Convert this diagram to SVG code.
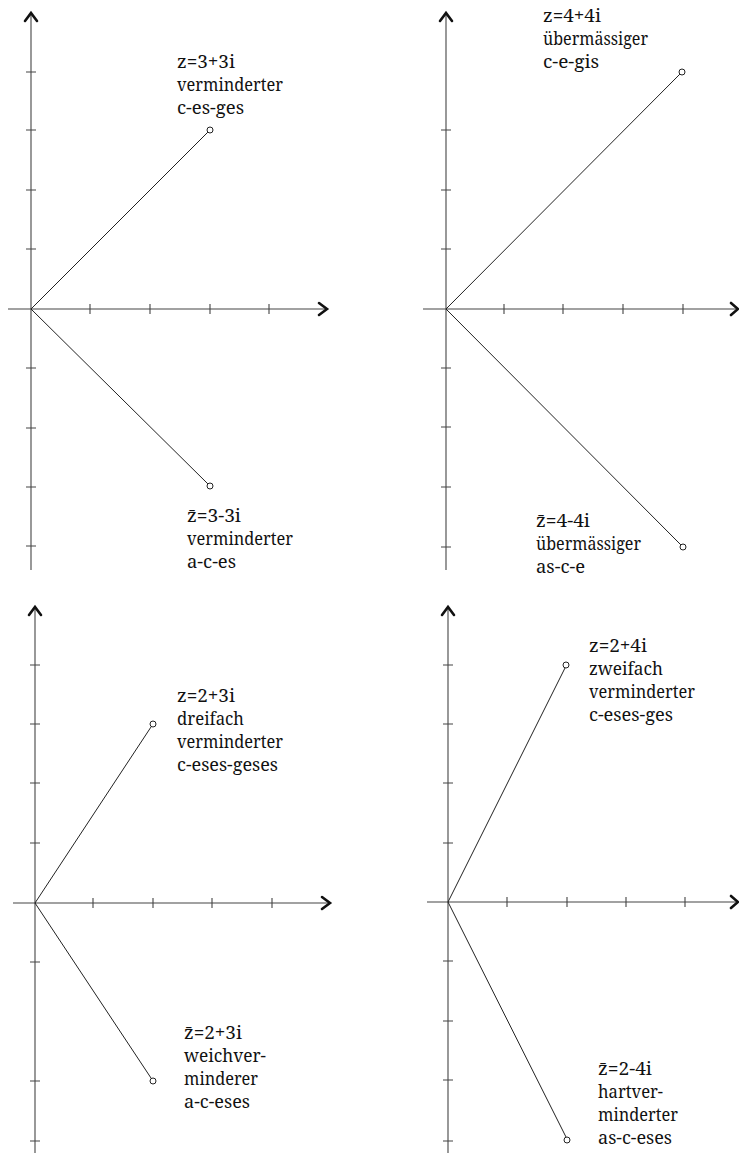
<svg xmlns="http://www.w3.org/2000/svg" width="739" height="1154" viewBox="0 0 739 1154">
<style>
.ax{stroke:#444;stroke-width:1.1;fill:none}
.tk{stroke:#444;stroke-width:1.1;fill:none}
.ah{stroke:#111;stroke-width:2.6;fill:none;stroke-linecap:round;stroke-linejoin:miter}
.vec{stroke:#222;stroke-width:1;fill:none}
.pt{stroke:#222;stroke-width:1;fill:#fff}
.lbl text{font-family:"Noto Serif","DejaVu Serif",serif;font-size:18.5px;fill:#111}
</style>
<rect width="739" height="1154" fill="#fff"/>

<g id="panel1-axes">
<line class="ax" x1="8" y1="309" x2="326" y2="309"/>
<line class="ax" x1="31" y1="13" x2="31" y2="570"/>
<polyline class="ah" points="319,303 327,309 319,315"/>
<polyline class="ah" points="25,21 31,13 37,21"/>
<path class="tk" d="M90,304V314M150,304V314M210,304V314M269,304V314M26,72H36M26,130H36M26,190H36M26,249H36M26,368H36M26,428H36M26,487H36M26,546H36"/>
</g>

<g id="panel2-axes">
<line class="ax" x1="423" y1="309" x2="736" y2="309"/>
<line class="ax" x1="446" y1="13" x2="446" y2="570"/>
<polyline class="ah" points="731,303 738,309 731,315"/>
<polyline class="ah" points="440,21 446,13 452,21"/>
<path class="tk" d="M504,304V314M563,304V314M623,304V314M683,304V314M441,130H451M441,190H451M441,249H451M441,368H451M441,427H451M441,487H451M441,547H451"/>
</g>

<g id="panel3-axes">
<line class="ax" x1="13" y1="903" x2="328" y2="903"/>
<line class="ax" x1="35" y1="607" x2="35" y2="1153"/>
<polyline class="ah" points="322,897 330,903 322,909"/>
<polyline class="ah" points="29,615 35,607 41,615"/>
<path class="tk" d="M93,898V908M153,898V908M212,898V908M272,898V908M30,665H40M30,724H40M30,783H40M30,843H40M30,962H40M30,1081H40M30,1141H40"/>
</g>

<g id="panel4-axes">
<line class="ax" x1="427" y1="902" x2="736" y2="902"/>
<line class="ax" x1="448" y1="607" x2="448" y2="1153"/>
<polyline class="ah" points="731,896 738,902 731,908"/>
<polyline class="ah" points="442,615 448,607 454,615"/>
<path class="tk" d="M507,897V907M567,897V907M626,897V907M685,897V907M443,665H453M443,724H453M443,783H453M443,843H453M443,961H453M443,1021H453M443,1080H453M443,1141H453"/>
</g>

<g id="connectors">
<line class="vec" x1="31" y1="309" x2="208" y2="132"/>
<line class="vec" x1="31" y1="309" x2="208" y2="484"/>
<line class="vec" x1="446" y1="309" x2="680" y2="74"/>
<line class="vec" x1="446" y1="309" x2="681" y2="545"/>
<line class="vec" x1="35" y1="903" x2="151" y2="727"/>
<line class="vec" x1="35" y1="903" x2="151" y2="1078"/>
<line class="vec" x1="448" y1="902" x2="565" y2="668"/>
<line class="vec" x1="448" y1="902" x2="566" y2="1137"/>
</g>

<g id="z1" class="lbl">
<circle class="pt" cx="210" cy="130" r="3"/>
<text x="177" y="68" textLength="58" lengthAdjust="spacingAndGlyphs">z=3+3i</text>
<text x="177" y="91" textLength="106" lengthAdjust="spacingAndGlyphs">verminderter</text>
<text x="177" y="114" textLength="67" lengthAdjust="spacingAndGlyphs">c-es-ges</text>
</g>
<g id="z1bar" class="lbl">
<circle class="pt" cx="210" cy="486" r="3"/>
<text x="187" y="522" textLength="54" lengthAdjust="spacingAndGlyphs">z̄=3-3i</text>
<text x="187" y="545" textLength="106" lengthAdjust="spacingAndGlyphs">verminderter</text>
<text x="187" y="568" textLength="49" lengthAdjust="spacingAndGlyphs">a-c-es</text>
</g>

<g id="z2" class="lbl">
<circle class="pt" cx="682" cy="72" r="3"/>
<text x="543" y="22" textLength="58" lengthAdjust="spacingAndGlyphs">z=4+4i</text>
<text x="543" y="45" textLength="105" lengthAdjust="spacingAndGlyphs">übermässiger</text>
<text x="543" y="68" textLength="56" lengthAdjust="spacingAndGlyphs">c-e-gis</text>
</g>
<g id="z2bar" class="lbl">
<circle class="pt" cx="683" cy="547" r="3"/>
<text x="536" y="527" textLength="54" lengthAdjust="spacingAndGlyphs">z̄=4-4i</text>
<text x="536" y="550" textLength="105" lengthAdjust="spacingAndGlyphs">übermässiger</text>
<text x="536" y="573" textLength="49" lengthAdjust="spacingAndGlyphs">as-c-e</text>
</g>

<g id="z3" class="lbl">
<circle class="pt" cx="153" cy="724" r="3"/>
<text x="177" y="702" textLength="58" lengthAdjust="spacingAndGlyphs">z=2+3i</text>
<text x="177" y="725" textLength="67" lengthAdjust="spacingAndGlyphs">dreifach</text>
<text x="177" y="748" textLength="106" lengthAdjust="spacingAndGlyphs">verminderter</text>
<text x="177" y="771" textLength="101" lengthAdjust="spacingAndGlyphs">c-eses-geses</text>
</g>
<g id="z3bar" class="lbl">
<circle class="pt" cx="153" cy="1081" r="3"/>
<text x="184" y="1039" textLength="58" lengthAdjust="spacingAndGlyphs">z̄=2+3i</text>
<text x="184" y="1062" textLength="82" lengthAdjust="spacingAndGlyphs">weichver-</text>
<text x="184" y="1085" textLength="74" lengthAdjust="spacingAndGlyphs">minderer</text>
<text x="184" y="1108" textLength="66" lengthAdjust="spacingAndGlyphs">a-c-eses</text>
</g>

<g id="z4" class="lbl">
<circle class="pt" cx="566" cy="665" r="3"/>
<text x="589" y="652" textLength="58" lengthAdjust="spacingAndGlyphs">z=2+4i</text>
<text x="589" y="675" textLength="74" lengthAdjust="spacingAndGlyphs">zweifach</text>
<text x="589" y="698" textLength="106" lengthAdjust="spacingAndGlyphs">verminderter</text>
<text x="589" y="721" textLength="84" lengthAdjust="spacingAndGlyphs">c-eses-ges</text>
</g>
<g id="z4bar" class="lbl">
<circle class="pt" cx="567" cy="1140" r="3"/>
<text x="598" y="1075" textLength="54" lengthAdjust="spacingAndGlyphs">z̄=2-4i</text>
<text x="598" y="1098" textLength="65" lengthAdjust="spacingAndGlyphs">hartver-</text>
<text x="598" y="1121" textLength="80" lengthAdjust="spacingAndGlyphs">minderter</text>
<text x="598" y="1144" textLength="74" lengthAdjust="spacingAndGlyphs">as-c-eses</text>
</g>
</svg>
